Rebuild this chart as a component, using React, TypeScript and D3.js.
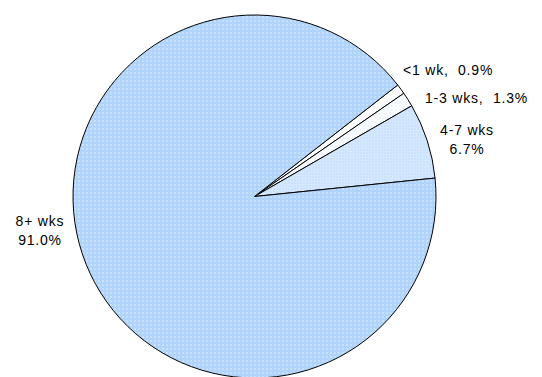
import React from "react";
import * as d3 from "d3";

const categories = ["<1 wk", "1-3 wks", "4-7 wks", "8+ wks"];
const values = [0.9, 1.3, 6.7, 91.0];
const labelLines = [["<1 wk,  0.9%"], ["1-3 wks,  1.3%"], ["4-7 wks", "6.7%"], ["8+ wks", "91.0%"]];

const W = 542, H = 377;
const cx = 254.5, cy = 196.5, R = 181.5;
const startDeg = 52.1;

export default function App() {
  const pie = d3.pie<number>().sort(null).value(d => d)
    .startAngle(startDeg * Math.PI / 180)
    .endAngle(startDeg * Math.PI / 180 + 2 * Math.PI);
  const arcs = pie(values);
  const arc = d3.arc<d3.PieArcDatum<number>>().innerRadius(0).outerRadius(R);
  const fills = ["#ffffff", "url(#p13)", "url(#p47)", "url(#p8)"];
  const labelPos: [number, number, string][] = [
    [403, 75, "start"], [425, 103, "start"], [467, 135, "middle"], [40, 226, "middle"],
  ];
  return (
    <svg width={W} height={H} style={{ position: "absolute", left: 0, top: 0 }}>
      <defs>
        <pattern id="p8" width="4" height="4" patternUnits="userSpaceOnUse">
          <rect width="4" height="4" fill="#9fcafb" />
          <rect x="0" y="0" width="4" height="1" fill="#c0dcfd" />
          <rect x="0" y="0" width="1" height="4" fill="#c0dcfd" />
          <rect x="0" y="0" width="1" height="1" fill="#ffffff" />
          <rect x="2" y="2" width="1" height="1" fill="#e4f0fe" />
        </pattern>
        <pattern id="p47" width="3" height="3" patternUnits="userSpaceOnUse">
          <rect width="3" height="3" fill="#d6e8fd" />
          <rect x="1" y="1" width="1" height="1" fill="#a9d0fb" />
        </pattern>
        <pattern id="p13" width="4" height="4" patternUnits="userSpaceOnUse">
          <rect width="4" height="4" fill="#ffffff" />
          <rect x="1" y="1" width="1" height="1" fill="#a9d0fb" />
          <rect x="3" y="3" width="1" height="1" fill="#c4defc" />
        </pattern>
      </defs>
      <g transform={`translate(${cx},${cy})`}>
        {arcs.map((a, i) => (
          <path key={categories[i]} d={arc(a) || ""} fill={fills[i]} stroke="#000" strokeWidth={1} />
        ))}
      </g>
      {labelLines.map((lines, i) => (
        <text key={i} x={labelPos[i][0]} y={labelPos[i][1]} textAnchor={labelPos[i][2] as any}
          fontFamily="Liberation Sans, Arial, sans-serif" fontSize={14} letterSpacing={0.8} fill="#000"
          style={{ whiteSpace: "pre" }}>
          {lines.map((l, j) => (
            <tspan key={j} x={labelPos[i][0]} dy={j === 0 ? 0 : 19}>{l}</tspan>
          ))}
        </text>
      ))}
    </svg>
  );
}
